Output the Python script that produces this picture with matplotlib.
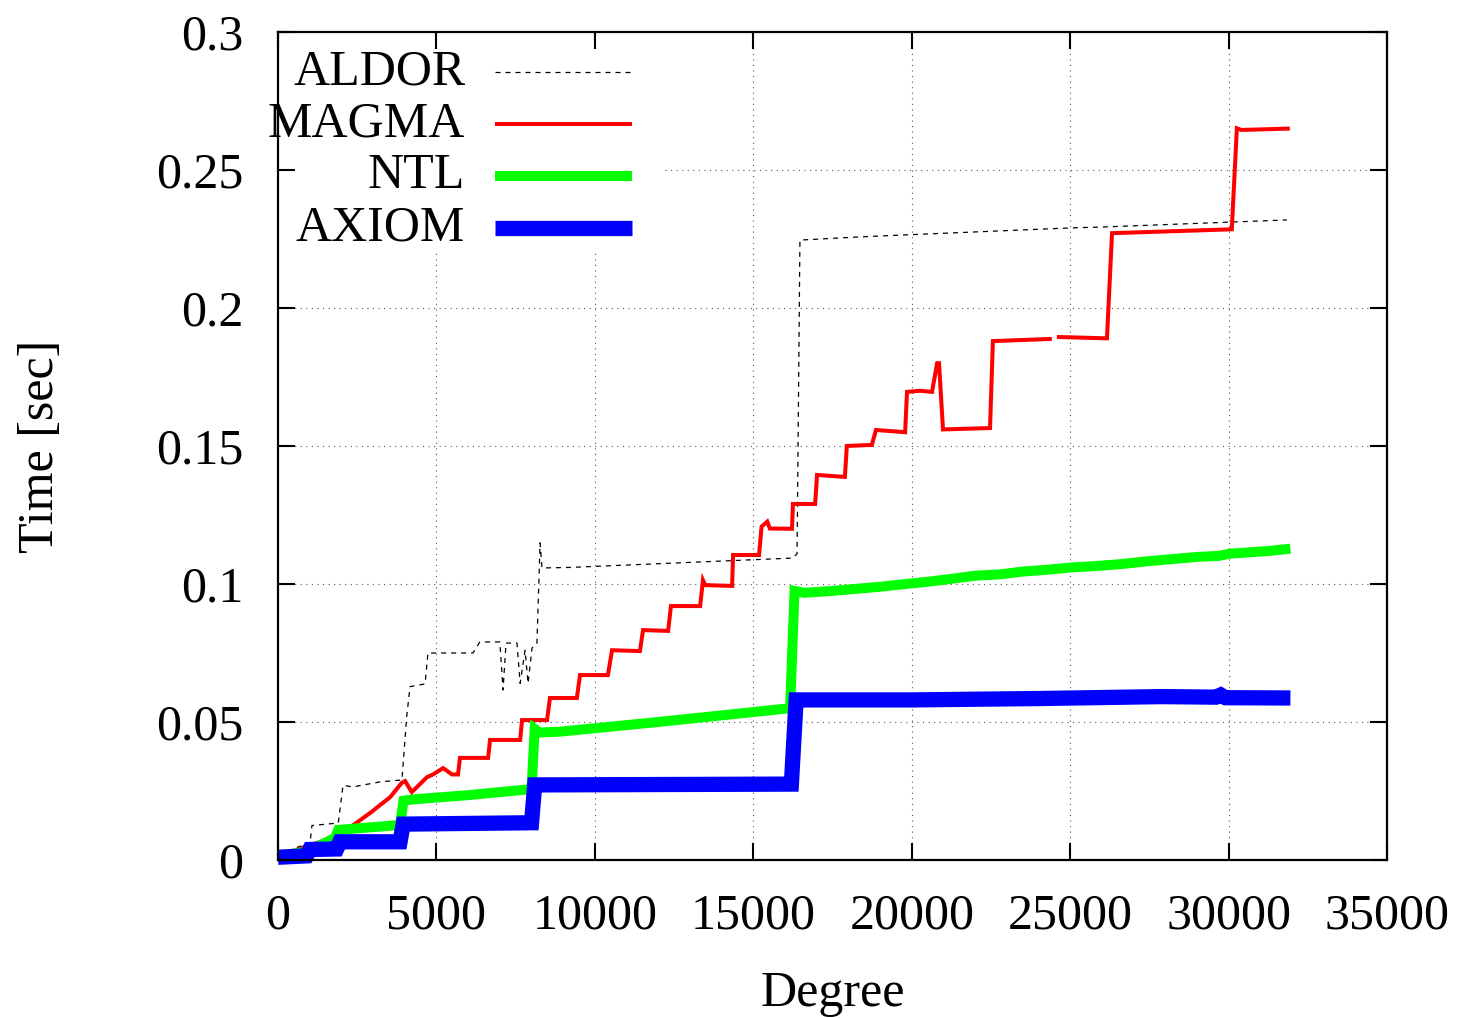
import numpy as np
import matplotlib
matplotlib.use("Agg")
import matplotlib.pyplot as plt
from matplotlib.ticker import FuncFormatter

# values
aldor_x = [0, 700, 1000, 1070, 1900, 2050, 2370, 3220, 3910, 4060, 4165, 4640, 4730, 6150,
           6370, 7000, 7100, 7195, 7540, 7640, 7795, 7890, 8015, 8170, 8270, 8330, 9210,
           16250, 16380, 16470, 18270, 19630, 24990, 25940, 31840]
aldor_y = [0.002, 0.005, 0.0054, 0.0125, 0.0134, 0.027, 0.0265, 0.0283, 0.029, 0.052, 0.0628,
           0.0638, 0.075, 0.075, 0.079, 0.079, 0.0616, 0.0786, 0.0786, 0.064, 0.076, 0.064,
           0.0768, 0.0786, 0.1149, 0.1058, 0.106, 0.1094, 0.111, 0.2246, 0.2257, 0.2264,
           0.229, 0.2293, 0.2319]

magma_x = [0, 1000, 1850, 2380, 2900, 3540, 3900, 4010, 4220, 4700, 4890, 5210, 5490, 5680,
           5740, 6630, 6690, 7640, 7700, 8490, 8580, 9430, 9530, 10410, 10540, 11420, 11520,
           12310, 12400, 13320, 13410, 13480, 14330, 14360, 15180, 15260, 15440, 15520, 16220,
           16250, 16950, 17010, 17890, 17950, 18740, 18870, 19790, 19850, 20260, 20640, 20800,
           20860, 20985, 22470, 22560, 24420, np.nan, 24580, 26160, 26320, 30100, 30260, 30400,
           31930]
magma_y = [0.001, 0.0054, 0.0083, 0.0127, 0.017, 0.0228, 0.0279, 0.0286, 0.0246, 0.030, 0.031,
           0.0333, 0.031, 0.031, 0.037, 0.037, 0.0435, 0.0435, 0.0507, 0.0507, 0.0587, 0.0587,
           0.067, 0.067, 0.076, 0.0757, 0.0833, 0.083, 0.092, 0.092, 0.1014, 0.0996, 0.0993,
           0.1105, 0.1105, 0.1208, 0.1226, 0.1201, 0.120, 0.129, 0.129, 0.1395, 0.1388, 0.150,
           0.1504, 0.1558, 0.155, 0.1696, 0.170, 0.1696, 0.180, 0.180, 0.156, 0.1565, 0.188,
           0.1888, np.nan, 0.1895, 0.189, 0.2271, 0.2285, 0.2651, 0.2645, 0.265]

ntl_x = [0, 900, 1800, 1900, 3850, 3960, 4300, 6000, 8000, 8100, 8250, 8900, 12000, 16160,
         16300, 16600, 17500, 18200, 19000, 19800, 20500, 21200, 22000, 22800, 23500, 24300,
         25050, 25800, 26600, 27400, 28200, 29000, 29700, 30050, 30700, 31300, 31950]
ntl_y = [0.0015, 0.003, 0.008, 0.0109, 0.0127, 0.0215, 0.022, 0.0235, 0.0257, 0.0475, 0.0462,
         0.0465, 0.050, 0.055, 0.0975, 0.0968, 0.0975, 0.0982, 0.099, 0.100, 0.1008, 0.1018,
         0.103, 0.1035, 0.1045, 0.1052, 0.106, 0.1065, 0.1072, 0.1082, 0.109, 0.1098, 0.1102,
         0.111, 0.1115, 0.112, 0.1128]

axiom_x = [0, 900, 1000, 1850, 1950, 3850, 3950, 8000, 8100, 16200, 16350, 20000, 24000,
           27900, 29600, 29750, 29900, 31950]
axiom_y = [0.001, 0.0015, 0.0038, 0.004, 0.0066, 0.0066, 0.013, 0.0135, 0.0272, 0.0275,
           0.058, 0.058, 0.0585, 0.0592, 0.059, 0.0598, 0.0588, 0.0587]

labels = ["ALDOR", "MAGMA", "NTL", "AXIOM"]
x_ticks = [0, 5000, 10000, 15000, 20000, 25000, 30000, 35000]
y_ticks = [0, 0.05, 0.1, 0.15, 0.2, 0.25, 0.3]

plt.rcParams['font.family'] = ['Liberation Serif', 'DejaVu Serif']
plt.rcParams['font.size'] = 36

fig = plt.figure(figsize=(14.65, 10.18), dpi=100)
ax = fig.add_axes([0.1898, 0.1552, 0.757, 0.8134])

styles = [
    dict(color='black', lw=0.9, ls=(0, (4, 4))),
    dict(color='#ff0000', lw=2.9, ls='-'),
    dict(color='#00ff00', lw=7.2, ls='-'),
    dict(color='#0000ff', lw=11.0, ls='-'),
]
series = [(aldor_x, aldor_y), (magma_x, magma_y), (ntl_x, ntl_y), (axiom_x, axiom_y)]

for (xs, ys), st in zip(series, styles):
    ax.plot(xs, ys, color=st['color'], lw=st['lw'], ls=st['ls'],
            solid_capstyle='butt', solid_joinstyle='miter', zorder=2, clip_on=False)

ax.set_xlim(0, 35000)
ax.set_ylim(0, 0.3)
ax.set_xticks(x_ticks)
ax.set_yticks(y_ticks)
fmt = FuncFormatter(lambda v, p: '%g' % v)
ax.xaxis.set_major_formatter(fmt)
ax.yaxis.set_major_formatter(fmt)
ax.tick_params(direction='in', length=12, width=1.5, top=True, right=True, pad=25)
ax.tick_params(axis='x', pad=24)
for s in ax.spines.values():
    s.set_linewidth(1.6)

# grid, kept out of the key box
key_right, key_bottom = 0.349, 0.737
for y in y_ticks[1:-1]:
    xmin = key_right if y / 0.3 > key_bottom else 0
    ax.axhline(y, xmin=xmin, color='0.35', lw=0.8, ls=(0, (1, 4)), zorder=1)
for x in x_ticks[1:-1]:
    ymax = key_bottom if x / 35000 < key_right else 1
    ax.axvline(x, ymax=ymax, color='0.35', lw=0.8, ls=(0, (1, 4)), zorder=1)

# key: text right aligned, sample line to the right
row_y = [0.9517, 0.8889, 0.8261, 0.7633]
for lab, st, ry in zip(labels, styles, row_y):
    ax.text(0.1688, ry, lab, transform=ax.transAxes, ha='right', va='center')
    ax.plot([0.1956, 0.3192], [ry, ry], transform=ax.transAxes, color=st['color'],
            lw=st['lw'], ls=st['ls'], solid_capstyle='butt', zorder=3)

ax.set_xlabel('Degree', labelpad=22)
ax.set_ylabel('Time [sec]', labelpad=66)

fig.savefig('out.png', dpi=100)
